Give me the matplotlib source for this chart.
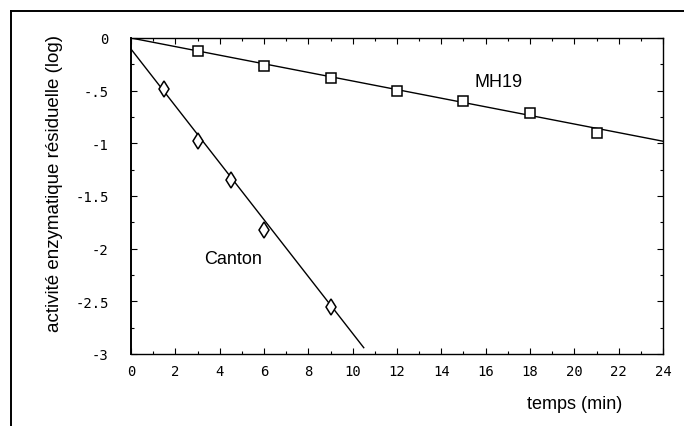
import matplotlib
matplotlib.use("Agg")
import matplotlib.pyplot as plt
from matplotlib.lines import Line2D
from matplotlib.ticker import MultipleLocator, FixedLocator, FixedFormatter
import numpy as np

# Data
mh19_t = [3, 6, 9, 12, 15, 18, 21]
mh19_y = [-0.12, -0.27, -0.38, -0.50, -0.60, -0.71, -0.90]
canton_t = [1.5, 3, 4.5, 6, 9]
canton_y = [-0.48, -0.98, -1.35, -1.82, -2.55]

mh19_fit_t = [0, 24]
mh19_fit_y = [0.0, -0.98]
canton_fit_t = [0, 10.5]
canton_fit_y = [-0.105, -2.94]

xticks = list(range(0, 25, 2))
xtick_labels = [str(v) for v in xticks]
yticks = [0, -0.5, -1, -1.5, -2, -2.5, -3]
ytick_labels = ["0", "-.5", "-1", "-1.5", "-2", "-2.5", "-3"]

fig = plt.figure(figsize=(6.84, 4.27), dpi=100)
ax = fig.add_axes([131/684, 1-355/427, (663-131)/684, (355-39)/427])

sans = "Liberation Sans"
mono = "DejaVu Sans Mono"

ax.plot(mh19_fit_t, mh19_fit_y, color="black", lw=1.0)
ax.plot(canton_fit_t, canton_fit_y, color="black", lw=1.0)
ax.plot(mh19_t, mh19_y, linestyle="none", marker="s", markersize=7.5,
        markerfacecolor="white", markeredgecolor="black", markeredgewidth=1.1)
ax.plot(canton_t, canton_y, linestyle="none", marker="d", markersize=8,
        markerfacecolor="white", markeredgecolor="black", markeredgewidth=1.1)

ax.set_xlim(0, 24)
ax.set_ylim(-3, 0)

ax.xaxis.set_major_locator(FixedLocator(xticks))
ax.xaxis.set_major_formatter(FixedFormatter(xtick_labels))
ax.xaxis.set_minor_locator(MultipleLocator(1))
ax.yaxis.set_major_locator(FixedLocator(yticks))
ax.yaxis.set_major_formatter(FixedFormatter(ytick_labels))
ax.yaxis.set_minor_locator(MultipleLocator(0.25))

ax.tick_params(which="both", direction="in", top=True, right=True, width=0.8)
ax.tick_params(which="major", length=4)
ax.tick_params(which="minor", length=2.5)
ax.tick_params(axis="y", which="major", pad=16)
ax.tick_params(axis="x", which="major", pad=7)
for lab in ax.get_xticklabels() + ax.get_yticklabels():
    lab.set_fontfamily(mono)
    lab.set_fontsize(10)

for s in ax.spines.values():
    s.set_linewidth(1.0)
ax.spines["left"].set_linewidth(1.4)

ax.text(16.6, -0.41, "MH19", fontfamily=sans, fontsize=13, ha="center", va="center")
ax.text(4.6, -2.09, "Canton", fontfamily=sans, fontsize=13, ha="center", va="center")

fig.text(55/684, 1-183/427, "activité enzymatique résiduelle (log)", rotation=90,
         fontfamily=sans, fontsize=13.5, ha="center", va="center")
fig.text(575/684, 1-405/427, "temps (min)", fontfamily=sans, fontsize=13,
         ha="center", va="center")

# figure frame (left and top)
fig.add_artist(Line2D([11/684, 11/684], [0, 1-12/427], transform=fig.transFigure,
                      color="black", lw=1.4))
fig.add_artist(Line2D([11/684, 1], [1-12/427, 1-12/427], transform=fig.transFigure,
                      color="black", lw=1.4))

fig.savefig("out.png", dpi=100)
